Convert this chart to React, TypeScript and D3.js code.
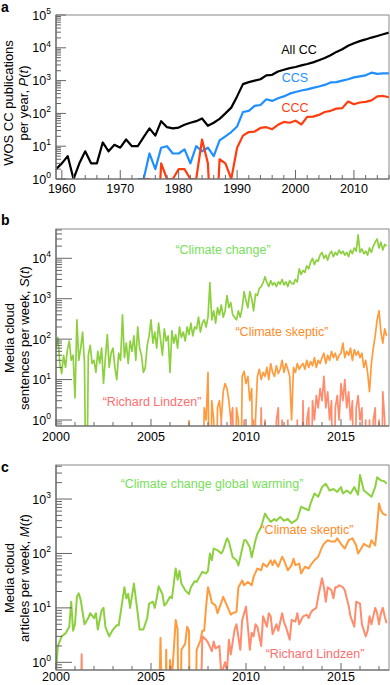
import React from "react";
import * as d3 from "d3";

const FONT = "'Liberation Sans', Arial, Helvetica, sans-serif";

// ---------- Panel a: WOS publications per year ----------
const aAllStart = 1959;
const aAllCC = [2, 3, 5, 1, 3, 7, 3, 3, 13, 7, 11, 9, 16, 10, 10, 19, 35, 21, 58, 38, 35, 37, 45, 52, 58, 70, 42, 52, 68, 100, 150, 330, 780, 900, 1000, 1100, 1450, 1500, 1900, 2150, 2400, 2600, 2900, 3200, 3600, 4200, 4900, 5900, 7500, 9000, 11500, 13800, 16000, 18000, 20500, 23000, 26000, 29000];
const aCCSStart = 1973;
const aCCS = [1, 1, 6, 2, 9, 10, 6, 6, 8, 3, 10, 7, 9, 5, 15, 20, 27, 40, 110, 120, 170, 180, 270, 240, 290, 330, 400, 450, 500, 540, 600, 660, 740, 880, 900, 1000, 1100, 1250, 1350, 1450, 1750, 1600, 1650, 1650];
const aCCCStart = 1974;
const aCCC = [1, 1, 0, 3, 1, 1, 2, 2, 1, 1, 16, 3, 0, 4, 3, 1, 9, 21, 27, 28, 36, 38, 33, 45, 55, 52, 60, 46, 78, 80, 90, 110, 120, 140, 145, 230, 190, 215, 225, 250, 330, 340, 310];
const aXTickLabels = [1960, 1970, 1980, 1990, 2000, 2010];

// ---------- Panel b: Media cloud sentences per week ----------
const bStep = 0.1;
const bGreenStart = 2000;
const bGreen = [
  60, 110, 25, 14, 40, 20, 55, 90, 30, 40,
  3.5, 300, 30, 60, 150, 25, 0, 40, 70, 25,
  30, 15, 50, 25, 60, 8, 35, 130, 20, 45,
  60, 20, 10, 45, 30, 400, 35, 80, 25, 90,
  50, 120, 30, 200, 60, 40, 15, 20, 70, 120,
  300, 80, 150, 60, 250, 100, 40, 180, 90, 120,
  15, 160, 80, 130, 60, 200, 110, 150, 90, 200,
  130, 250, 120, 200, 180, 350, 150, 250, 300, 200,
  350, 2500, 300, 500, 250, 600, 400, 700, 350, 500,
  1200, 600, 800, 400, 350, 300, 500, 350, 600, 1500,
  900, 600, 1500, 1000, 500, 1300, 1200, 1800, 2000, 2500,
  3500, 2500, 2000, 2800, 2200, 2500, 2000, 2600, 2300, 3000,
  2200, 2600, 2000, 2800, 2400, 2300, 3000, 2600, 5500, 4000,
  5000, 4500, 6500, 5500, 8000, 10000, 7000, 9000, 8500, 12000,
  14000, 10000, 12000, 9000, 13000, 15000, 11000, 14000, 12000, 16000,
  13000, 15000, 12000, 14000, 11000, 16000, 13000, 18000, 15000, 38000,
  14000, 17000, 13000, 15000, 12000, 18000, 14000, 20000, 25000, 30000,
  18000, 25000, 16000, 22000, 20000,
];
const bSkepticStart = 2007;
const bSkeptic = [
  1, 0, 0, 0, 0, 0, 0, 0, 2, 1,
  15, 0, 3, 1, 0, 2, 3, 1, 5, 8,
  6, 3, 1, 0, 0, 2, 1, 0, 12, 16,
  8, 12, 3, 6, 0, 1, 12, 18, 10, 15,
  12, 20, 10, 25, 15, 12, 22, 14, 18, 30,
  15, 25, 18, 12, 1, 20, 15, 25, 18, 22,
  25, 18, 30, 20, 28, 22, 35, 20, 30, 25,
  35, 45, 25, 40, 30, 50, 35, 45, 30, 40,
  45, 80, 35, 50, 40, 60, 30, 55, 40, 50,
  35, 45, 20, 30, 15, 5, 25, 60, 120, 300,
  500, 150, 80, 180, 120,
];
const bLindzenStart = 2008.5;
const bLindzen = [
  0, 0, 1, 0, 0,
  0, 0, 1, 2, 0, 0, 0, 0, 0, 1,
  0, 0, 0, 0, 1, 0, 0, 0, 2, 0,
  1, 0, 0, 0, 0, 0, 1, 2, 0, 1,
  0, 0, 1, 0, 0, 0, 0, 1, 0, 0,
  3, 0, 1, 2, 0, 3, 1, 4, 2, 6,
  3, 12, 2, 5, 1, 3, 0, 2, 4, 1,
  8, 3, 10, 2, 5, 1, 3, 0, 2, 4,
  1, 2, 0, 1, 0, 1, 0, 1, 2, 0,
  1, 0, 5, 1, 0,
];

// ---------- Panel c: Media cloud articles per week ----------
const cGreen: [number, number][] = [
  [2000.0, 0.7], [2000.1, 2], [2000.3, 3], [2000.5, 3.4], [2000.7, 4.5], [2000.8, 13], [2000.9, 3.8], [2001.0, 5], [2001.1, 16], [2001.2, 18.5], [2001.3, 14], [2001.5, 5], [2001.7, 6.5], [2001.8, 8], [2002.0, 6.5], [2002.1, 8], [2002.2, 4], [2002.4, 9], [2002.5, 10], [2002.6, 4.5], [2002.8, 3], [2003.0, 4], [2003.2, 4.8], [2003.3, 4.8], [2003.4, 8], [2003.6, 24], [2003.7, 15], [2003.8, 18], [2003.9, 10], [2004.1, 28], [2004.2, 15], [2004.3, 8], [2004.4, 4], [2004.6, 4], [2004.8, 6.5], [2004.9, 12], [2005.1, 13], [2005.2, 10], [2005.3, 15], [2005.4, 25], [2005.6, 18], [2005.7, 11], [2005.8, 12], [2006.0, 16], [2006.1, 15], [2006.3, 53], [2006.4, 33], [2006.5, 48], [2006.6, 28], [2006.8, 21], [2007.0, 18], [2007.1, 24], [2007.3, 31], [2007.4, 30], [2007.6, 40], [2007.7, 46], [2007.9, 43], [2008.0, 48], [2008.1, 100], [2008.2, 75], [2008.3, 123], [2008.5, 115], [2008.7, 100], [2008.8, 115], [2009.0, 190], [2009.1, 165], [2009.3, 85], [2009.5, 75], [2009.6, 60], [2009.7, 85], [2009.9, 175], [2010.0, 175], [2010.2, 130], [2010.3, 85], [2010.5, 175], [2010.6, 230], [2010.8, 310], [2011.0, 540], [2011.1, 470], [2011.3, 380], [2011.5, 430], [2011.6, 400], [2011.8, 470], [2012.0, 400], [2012.2, 430], [2012.4, 360], [2012.6, 400], [2012.7, 430], [2012.9, 720], [2013.1, 670], [2013.3, 620], [2013.4, 830], [2013.6, 1260], [2013.8, 1100], [2014.0, 1660], [2014.2, 1900], [2014.4, 1430], [2014.6, 1530], [2014.8, 1350], [2015.0, 1660], [2015.1, 1260], [2015.3, 1430], [2015.5, 1260], [2015.7, 1660], [2015.9, 1200], [2016.0, 2750], [2016.2, 1430], [2016.4, 1260], [2016.6, 1100], [2016.8, 1660], [2016.9, 2500], [2017.1, 2200], [2017.3, 2100], [2017.4, 1900],
];
const cSkeptic: [number, number][] = [
  [2005.3, 0], [2005.5, 2.8], [2005.7, 0], [2005.8, 1.7], [2005.9, 0], [2006.0, 1.1], [2006.1, 0.5], [2006.3, 6], [2006.4, 4], [2006.5, 0], [2006.6, 1.7], [2006.8, 2.2], [2006.9, 4.5], [2007.0, 3.8], [2007.1, 0], [2007.3, 0], [2007.4, 1.7], [2007.6, 2.5], [2007.7, 3.8], [2007.8, 3.8], [2007.9, 10.5], [2008.0, 24], [2008.1, 18], [2008.2, 12.5], [2008.4, 11], [2008.5, 8], [2008.7, 12.5], [2008.8, 16], [2009.0, 11], [2009.2, 7.5], [2009.3, 8], [2009.5, 8.5], [2009.6, 24], [2009.8, 32], [2009.9, 26], [2010.1, 30], [2010.3, 26], [2010.4, 37], [2010.6, 53], [2010.8, 49], [2010.9, 65], [2011.1, 57], [2011.3, 75], [2011.4, 61], [2011.5, 75], [2011.7, 57], [2011.9, 87], [2012.0, 75], [2012.2, 49], [2012.4, 61], [2012.5, 80], [2012.6, 61], [2012.8, 65], [2012.9, 43], [2013.1, 57], [2013.3, 53], [2013.4, 61], [2013.6, 75], [2013.8, 87], [2014.0, 130], [2014.1, 150], [2014.3, 175], [2014.5, 165], [2014.7, 165], [2014.8, 190], [2015.0, 150], [2015.2, 123], [2015.4, 175], [2015.6, 190], [2015.8, 140], [2015.9, 100], [2016.1, 130], [2016.2, 150], [2016.5, 130], [2016.6, 175], [2016.8, 140], [2016.9, 310], [2017.0, 830], [2017.1, 620], [2017.2, 540], [2017.4, 500],
];
const cLindzen: [number, number | null][] = [
  [2001.25, 0], [2001.35, 1.4], [2001.45, 0], [2001.5, null], [2007.5, 0], [2007.7, 3], [2007.9, 2.6], [2008.0, 2.3], [2008.2, 1.6], [2008.3, 2.4], [2008.4, 1.8], [2008.6, 2], [2008.7, 0.6], [2008.9, 1], [2009.0, 0.7], [2009.1, 2.6], [2009.2, 1.4], [2009.4, 4], [2009.5, 5], [2009.6, 2.9], [2009.7, 1.7], [2009.8, 6], [2010.0, 10.5], [2010.1, 4.5], [2010.2, 1.7], [2010.3, 3.5], [2010.4, 3], [2010.5, 5], [2010.6, 4.5], [2010.8, 2], [2010.9, 7], [2011.1, 4.5], [2011.2, 8], [2011.3, 7], [2011.4, 3.3], [2011.6, 5], [2011.7, 3.8], [2011.9, 8], [2012.0, 5.5], [2012.1, 4.5], [2012.3, 2.6], [2012.4, 6], [2012.6, 5.6], [2012.7, 8], [2012.8, 5], [2013.0, 7], [2013.2, 7.5], [2013.3, 6.5], [2013.4, 8], [2013.5, 9], [2013.7, 10], [2013.8, 16], [2014.0, 35], [2014.1, 24], [2014.2, 13], [2014.3, 24], [2014.5, 21], [2014.6, 15], [2014.7, 24], [2014.8, 24], [2014.9, 26], [2015.1, 24], [2015.2, 21], [2015.4, 11], [2015.5, 7], [2015.7, 4.5], [2015.8, 13], [2016.0, 12], [2016.1, 5], [2016.3, 3], [2016.4, 3.8], [2016.5, 7], [2016.6, 5], [2016.8, 10], [2016.9, 8], [2017.0, 5], [2017.1, 8], [2017.2, 10], [2017.3, 7], [2017.4, 5.2],
];
const bcXTickLabels = [2000, 2005, 2010, 2015];

// ---------- colors ----------
const C_BLACK = "#000000";
const C_BLUE = "#1f8fff";
const C_RED = "#ff3d0f";
const C_GREEN = "#8dd03f";
const C_GREEN_TXT = "#77e05a";
const C_ORANGE = "#ff9b3d";
const C_ORANGE_TXT = "#ff8a1f";
const C_SALMON = "#ff8c6c";
const C_SALMON_TXT = "#ff6e6e";
const C_AXIS = "#666666";

type P = [number, number | null];
const seq = (start: number, step: number, vals: number[]): P[] => vals.map((v, i) => [start + i * step, v]);

const L = 56, R = 389;

function lineGen(x: any, y: any) {
  return d3
    .line<P>()
    .defined((d) => d[1] != null)
    .x((d) => x(d[0]))
    .y((d) => y((d[1] as number) > 0 ? (d[1] as number) : 1e-3));
}

function LogYAxis({ y, majorLen, minorLen }: any) {
  const [d0, d1] = y.domain();
  const items: any[] = [];
  const k0 = Math.floor(Math.log10(d0));
  const k1 = Math.ceil(Math.log10(d1));
  for (let k = k0; k <= k1; k++) {
    for (let m = 1; m <= 9; m++) {
      const v = m * Math.pow(10, k);
      if (v < d0 * 0.999 || v > d1 * 1.001) continue;
      const py = y(v);
      items.push(
        <line key={`t${k}-${m}`} x1={L} x2={L + (m === 1 ? majorLen : minorLen)} y1={py} y2={py} stroke={C_AXIS} strokeWidth={1} />
      );
      if (m === 1) {
        items.push(
          <text key={`l${k}`} x={51} y={py + 4.5} textAnchor="end" fontSize={12.5} fill="#000">
            10<tspan dy={-5.5} fontSize={8.5}>{k}</tspan>
          </text>
        );
      }
    }
  }
  return <g>{items}</g>;
}

function XAxis({ x, y0, from, to, minorStep, majorEvery, majorLen, minorLen, labels, labelDy }: any) {
  const items: any[] = [];
  const ticks = d3.range(from, to + 0.001, minorStep);
  ticks.forEach((t: number, i: number) => {
    const major = Math.abs(t / majorEvery - Math.round(t / majorEvery)) < 1e-6;
    const px = x(t);
    items.push(<line key={`x${i}`} x1={px} x2={px} y1={y0} y2={y0 - (major ? majorLen : minorLen)} stroke={C_AXIS} strokeWidth={1} />);
  });
  labels.forEach((t: number) => {
    items.push(
      <text key={`xl${t}`} x={x(t)} y={y0 + labelDy} textAnchor="middle" fontSize={12.5} fill="#000">
        {t}
      </text>
    );
  });
  return <g>{items}</g>;
}

function Frame({ top, bottom }: any) {
  return (
    <g>
      <rect x={L} y={top} width={R - L} height={bottom - top} fill="none" stroke="#8a8a8a" strokeWidth={1} />
      <line x1={L} x2={L} y1={top} y2={bottom} stroke={C_AXIS} strokeWidth={1.2} />
      <line x1={L} x2={R} y1={bottom} y2={bottom} stroke={C_AXIS} strokeWidth={1.2} />
    </g>
  );
}

function YLabel({ cx, cy, line1, line2 }: any) {
  return (
    <text transform={`translate(${cx},${cy}) rotate(-90)`} textAnchor="middle" fontSize={13} fill="#000">
      <tspan x={0} dy={0}>{line1}</tspan>
      <tspan x={0} dy={15}>{line2}</tspan>
    </text>
  );
}

export default function App() {
  // Panel a scales
  const aX = d3.scaleLinear().domain([1959, 2016]).range([L, R]);
  const aTop = 15, aBot = 179;
  const aY = d3.scaleLog().domain([1, 1e5]).range([aBot, aTop]);
  // Panel b
  const bTop = 229, bBot = 426;
  const bX = d3.scaleLinear().domain([2000, 2017.526]).range([L, R]);
  const bY = d3.scaleLog().domain([Math.pow(10, -0.148), Math.pow(10, 4.724)]).range([bBot, bTop]);
  // Panel c
  const cTop = 465, cBot = 670;
  const cX = d3.scaleLinear().domain([2000, 2017.526]).range([L, R]);
  const cY = d3.scaleLog().domain([Math.pow(10, -0.141), Math.pow(10, 3.625)]).range([cBot, cTop]);

  const la = lineGen(aX, aY);
  const lb = lineGen(bX, bY);
  const lc = lineGen(cX, cY);

  return (
    <svg width={390} height={685} style={{ position: "absolute", left: 0, top: 0, fontFamily: FONT, background: "#fff" }}>
      <defs>
        <clipPath id="clipA"><rect x={L} y={aTop} width={R - L} height={aBot - aTop} /></clipPath>
        <clipPath id="clipB"><rect x={L} y={bTop} width={R - L} height={bBot - bTop} /></clipPath>
        <clipPath id="clipC"><rect x={L} y={cTop} width={R - L} height={cBot - cTop} /></clipPath>
      </defs>
      <rect x={0} y={0} width={390} height={685} fill="#fff" />

      {/* Panel a */}
      <text x={1} y={12} fontSize={14} fontWeight="bold">a</text>
      <g clipPath="url(#clipA)">
        <path d={la(seq(aAllStart, 1, aAllCC)) || ""} fill="none" stroke={C_BLACK} strokeWidth={2.2} strokeLinejoin="round" />
        <path d={la(seq(aCCSStart, 1, aCCS)) || ""} fill="none" stroke={C_BLUE} strokeWidth={2.2} strokeLinejoin="round" />
        <path d={la(seq(aCCCStart, 1, aCCC)) || ""} fill="none" stroke={C_RED} strokeWidth={2.2} strokeLinejoin="round" />
      </g>
      <Frame top={aTop} bottom={aBot} />
      <LogYAxis y={aY} majorLen={10} minorLen={5} />
      <XAxis x={aX} y0={aBot} from={1960} to={2016} minorStep={2} majorEvery={10} majorLen={9} minorLen={4} labels={aXTickLabels} labelDy={14} />
      <YLabel cx={13} cy={103} line1="WOS CC publications" line2={<>per year, <tspan fontStyle="italic">P</tspan>(<tspan fontStyle="italic">t</tspan>)</>} />
      <text x={299} y={54} textAnchor="middle" fontSize={12.5} fill={C_BLACK}>All CC</text>
      <text x={295} y={82} textAnchor="middle" fontSize={12.5} fill={C_BLUE}>CCS</text>
      <text x={295} y={112} textAnchor="middle" fontSize={12.5} fill={C_RED}>CCC</text>

      {/* Panel b */}
      <text x={1} y={225} fontSize={14} fontWeight="bold">b</text>
      <g clipPath="url(#clipB)">
        <path d={lb(seq(bGreenStart, bStep, bGreen)) || ""} fill="none" stroke={C_GREEN} strokeWidth={1.7} strokeLinejoin="round" />
        <path d={lb(seq(bSkepticStart, bStep, bSkeptic)) || ""} fill="none" stroke={C_ORANGE} strokeWidth={1.7} strokeLinejoin="round" />
        <path d={lb(seq(bLindzenStart, bStep, bLindzen)) || ""} fill="none" stroke={C_SALMON} strokeWidth={1.7} strokeLinejoin="round" />
      </g>
      <Frame top={bTop} bottom={bBot} />
      <LogYAxis y={bY} majorLen={16} minorLen={6} />
      <XAxis x={bX} y0={bBot} from={2000} to={2017} minorStep={1} majorEvery={5} majorLen={7} minorLen={4} labels={bcXTickLabels} labelDy={15} />
      <YLabel cx={14} cy={338} line1="Media cloud" line2={<>sentences per week, <tspan fontStyle="italic">S</tspan>(<tspan fontStyle="italic">t</tspan>)</>} />
      <text x={223} y={254} textAnchor="middle" fontSize={12.5} fill={C_GREEN_TXT}>“Climate change”</text>
      <text x={282} y={336} textAnchor="middle" fontSize={12.5} fill={C_ORANGE_TXT}>“Climate skeptic”</text>
      <text x={152} y={406} textAnchor="middle" fontSize={12.5} fill={C_SALMON_TXT}>“Richard Lindzen”</text>

      {/* Panel c */}
      <text x={1} y={472} fontSize={14} fontWeight="bold">c</text>
      <g clipPath="url(#clipC)">
        <path d={lc(cGreen as P[]) || ""} fill="none" stroke={C_GREEN} strokeWidth={2} strokeLinejoin="round" />
        <path d={lc(cSkeptic as P[]) || ""} fill="none" stroke={C_ORANGE} strokeWidth={2} strokeLinejoin="round" />
        <path d={lc(cLindzen) || ""} fill="none" stroke={C_SALMON} strokeWidth={2} strokeLinejoin="round" />
      </g>
      <Frame top={cTop} bottom={cBot} />
      <LogYAxis y={cY} majorLen={16} minorLen={6} />
      <XAxis x={cX} y0={cBot} from={2000} to={2017} minorStep={1} majorEvery={5} majorLen={7} minorLen={4} labels={bcXTickLabels} labelDy={11} />
      <YLabel cx={14} cy={578} line1="Media cloud" line2={<>articles per week, <tspan fontStyle="italic">M</tspan>(<tspan fontStyle="italic">t</tspan>)</>} />
      <text x={212} y={488} textAnchor="middle" fontSize={12.5} fill={C_GREEN_TXT}>“Climate change global warming”</text>
      <text x={307} y={534} textAnchor="middle" fontSize={12.5} fill={C_ORANGE_TXT}>“Climate skeptic”</text>
      <text x={315} y={658} textAnchor="middle" fontSize={12.5} fill={C_SALMON_TXT}>“Richard Lindzen”</text>
    </svg>
  );
}
